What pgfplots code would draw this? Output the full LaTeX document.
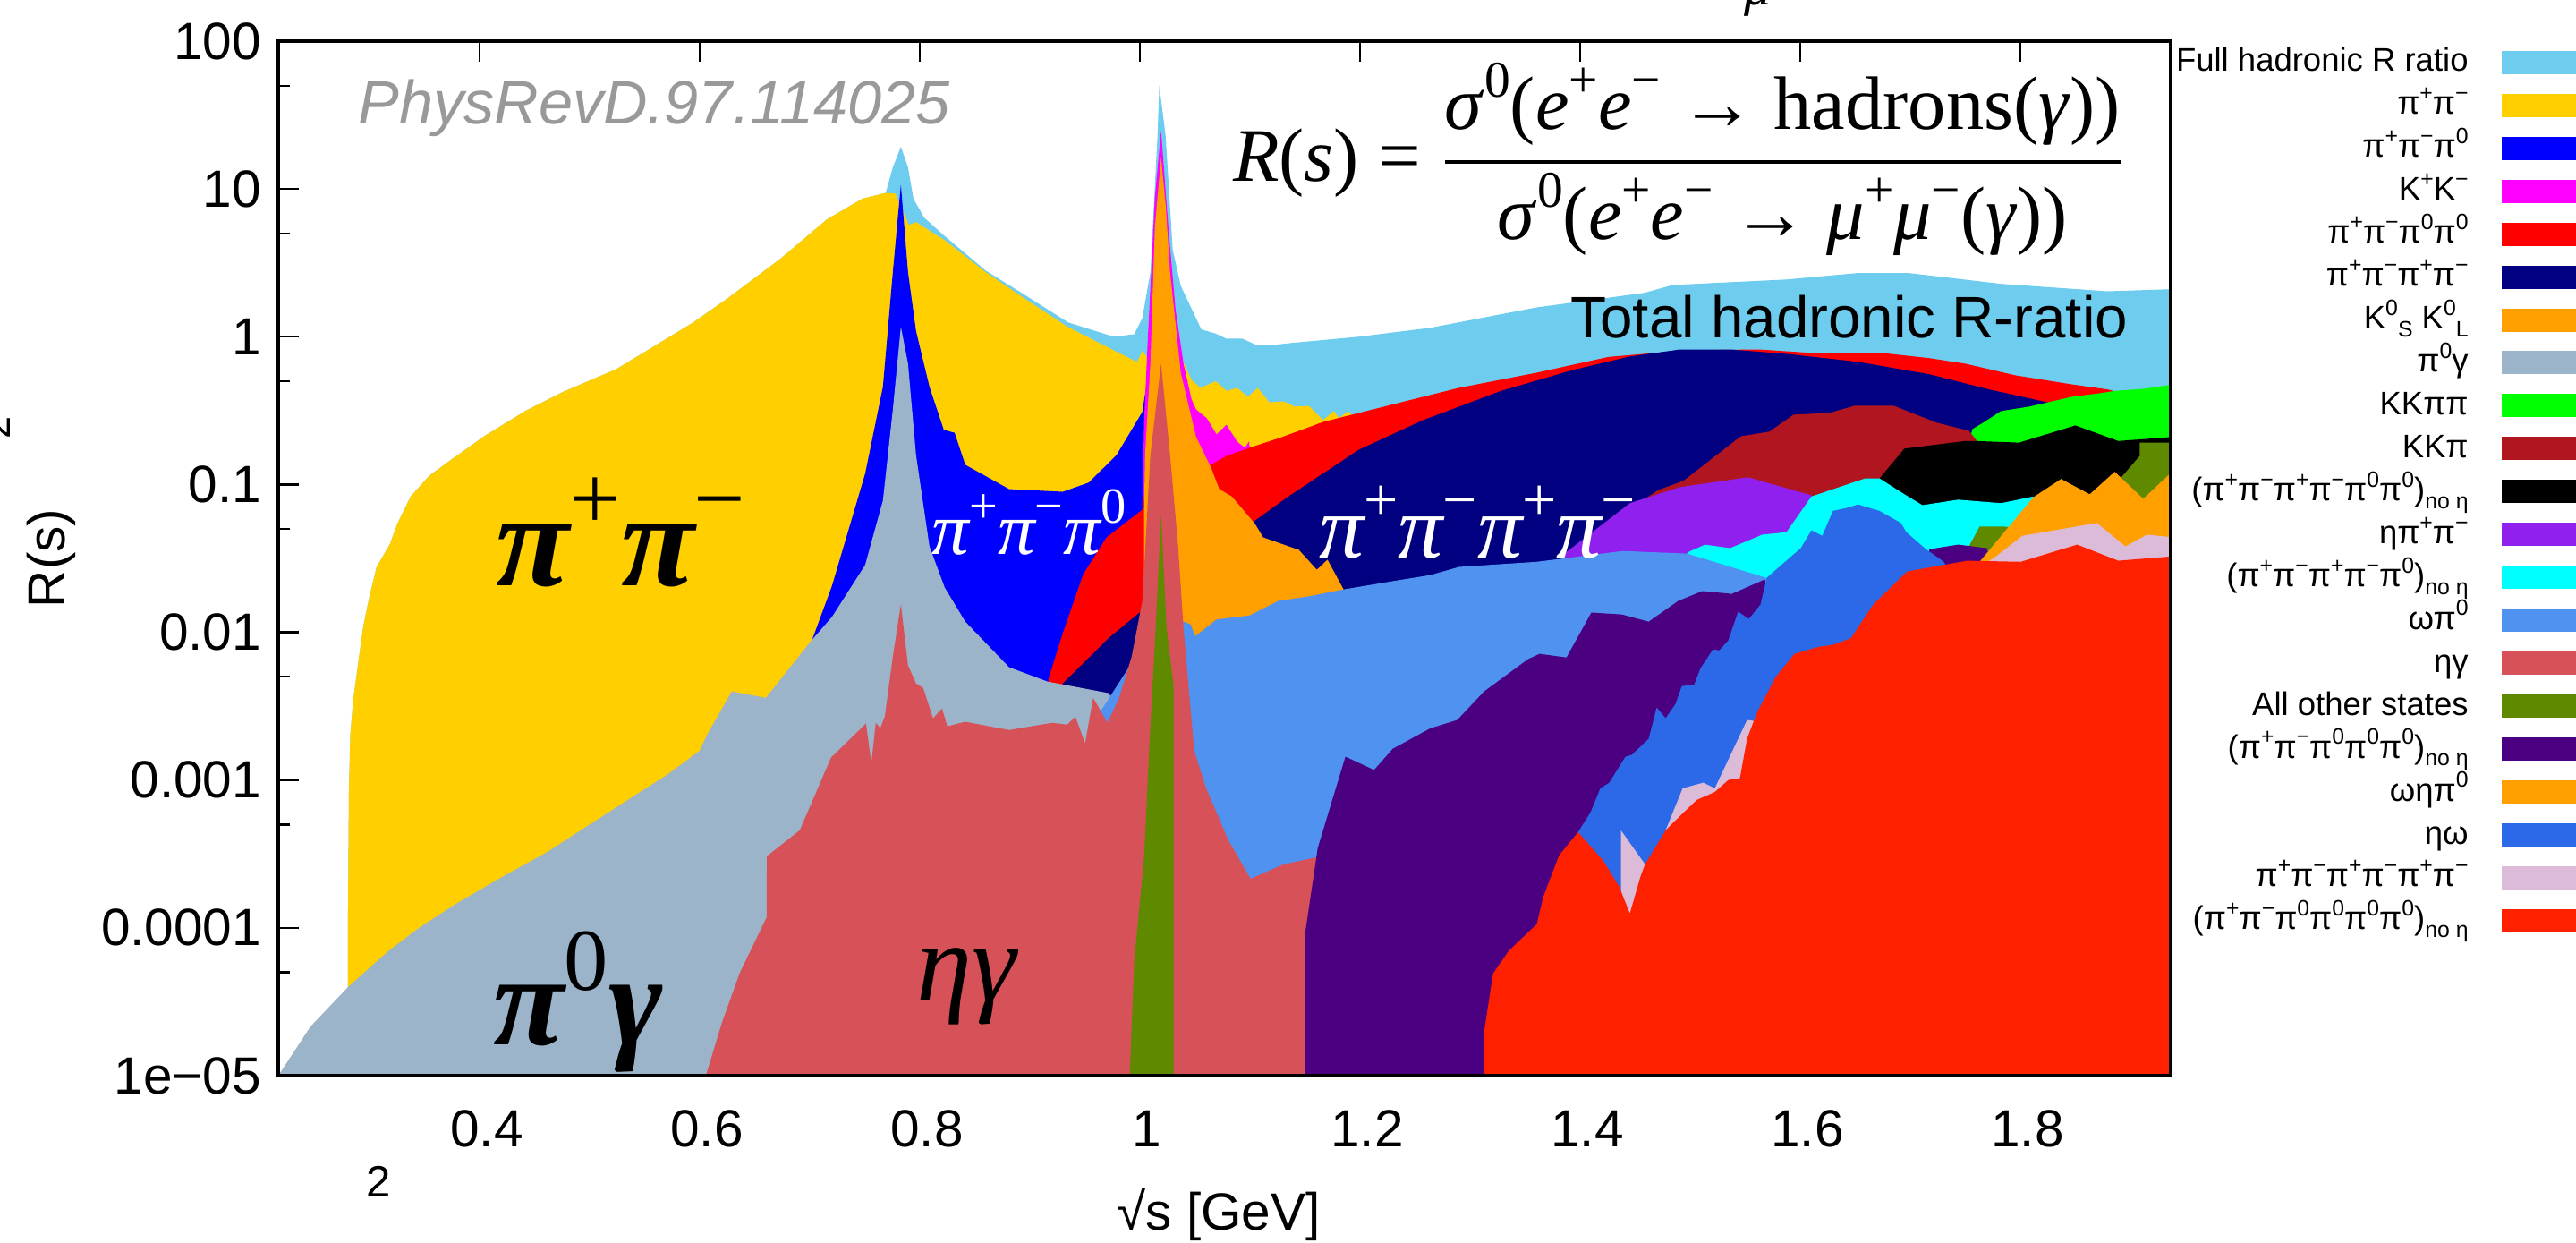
\documentclass[border=0pt]{standalone}
\usepackage{fontspec}
\usepackage{pgfplots}
\pgfplotsset{compat=1.18}
\setmainfont{Liberation Sans}
\newfontfamily\ser{Liberation Serif}
\newcommand\Sup[1]{\raisebox{.42em}{\scalebox{.68}{#1}}}
\newcommand\Sub[1]{\raisebox{-.24em}{\scalebox{.68}{#1}}}
\newcommand\Pp{π\Sup{+}}
\newcommand\Pm{π\Sup{−}}
\newcommand\Pz{π\Sup{0}}
\newcommand\noeta{\Sub{no η}}
\newcommand\fs[1]{\fontsize{#1}{#1}\selectfont}
\definecolor{cFull}{HTML}{6ECDEF}
\definecolor{cPP}{HTML}{FFCF00}
\definecolor{c3P}{HTML}{0000FF}
\definecolor{cKK}{HTML}{FF00FF}
\definecolor{c2P2}{HTML}{FF0000}
\definecolor{c4P}{HTML}{000080}
\definecolor{cKS}{HTML}{FF9F00}
\definecolor{cPG}{HTML}{9BB4CA}
\definecolor{cKKPP}{HTML}{00FF00}
\definecolor{cKKP}{HTML}{B01520}
\definecolor{cBlack}{HTML}{000000}
\definecolor{cEPP}{HTML}{9020EE}
\definecolor{cCyan}{HTML}{00FFFF}
\definecolor{cOP}{HTML}{4F92F0}
\definecolor{cEG}{HTML}{D75159}
\definecolor{cOther}{HTML}{5F8A00}
\definecolor{cIndigo}{HTML}{4B0082}
\definecolor{cOEP}{HTML}{FFA000}
\definecolor{cEO}{HTML}{2B69E8}
\definecolor{c6P}{HTML}{DBBBD8}
\definecolor{cScar}{HTML}{FF2000}
\begin{document}
\begin{tikzpicture}
\path[use as bounding box] (-62.2pt,-37.4pt) rectangle (513.6pt,240.4pt);
\begin{axis}[
  scale only axis, width=423pt, height=231.2pt,
  ymode=log, xmin=0.2171, xmax=1.9365, ymin=1e-5, ymax=100,
  axis on top=false, no markers, clip mode=individual,
  axis line style={line width=.75pt},
  tick style={black, line width=.45pt},
  major tick length=4.7pt,
  xtick={0.4,0.6,0.8,1,1.2,1.4,1.6,1.8},
  xticklabels={0.4,0.6,0.8,1,1.2,1.4,1.6,1.8},
  xticklabel pos=lower,
  ytick={1e-5,1e-4,1e-3,1e-2,1e-1,1,10,100},
  yticklabels={1e−05,0.0001\hspace{1.6pt},0.001\hspace{1.6pt},0.01\hspace{1.6pt},0.1\hspace{1.6pt},1\hspace{2pt},10,100},
  ytick pos=left, yminorticks=false, xminorticks=false,
  extra y ticks={5e-5,5e-4,5e-3,5e-2,0.5,5,50},
  extra y tick labels={},
  extra y tick style={major tick length=2.6pt},
  tick label style={font=\fs{11.7}, inner sep=0pt},
  xticklabel shift=7.6pt, yticklabel shift=3.6pt,
  xticklabel style={xshift=1.6pt},
  every axis x label/.style={at={(rel axis cs:0.497,0)}, anchor=center, yshift=-31pt},
  every axis y label/.style={at={(rel axis cs:0,0.5)}, anchor=center, rotate=90, yshift=50.8pt},
  label style={font=\fs{11.7}},
  xlabel={√s [GeV]}, ylabel={R(s)},
  legend style={at={(axis description cs:1.2457,0.997)}, anchor=north east, draw=none, fill=none, inner sep=0pt, outer sep=0pt,
    row sep=0pt, column sep=7.4pt,
    nodes={inner sep=0pt, outer sep=0pt, font=\fs{7.3}, text height=6.09pt, text depth=3.5pt}},
  legend cell align=right, legend plot pos=right,
  legend image code/.code={\fill[#1] (0pt,-1.87pt) rectangle (30pt,3.33pt);},
]
% Full hadronic R ratio
\addplot[fill=cFull, draw=none] coordinates {(.2805,1e-5)(.2805,3.97e-5)(.2805,1.30e-4)(.2813,8.2e-4)(.2825,2e-3)(.2854,3.6e-3)(.2943,.0109)(.3000,.0175)(.3065,.0277)(.3187,.0397)(.3252,.0541)(.3374,.0830)(.3545,.115)(.3789,.156)(.4041,.212)(.4414,.314)(.4748,.420)(.5243,.604)(.5658,.93)(.5942,1.25)(.6267,1.85)(.6731,3.36)(.7153,6.2)(.7478,8.6)(.7690,9.4)(.7755,14.0)(.7828,19.3)(.7893,14.0)(.7942,8.6)(.8039,6.4)(.8226,4.8)(.8600,2.8)(.8925,1.98)(.9348,1.25)(.9762,1.0)(.9949,1.04)(1.0022,1.34)(1.0095,2.73)(1.0160,23.1)(1.0176,50)(1.0233,23.1)(1.0298,3.87)(1.0371,2.21)(1.0558,1.12)(1.0688,1.05)(1.0786,.97)(1.0932,.97)(1.1071,.87)(1.1208,.88)(1.1395,.91)(1.1988,1.0)(1.2639,1.15)(1.3605,1.58)(1.4581,1.98)(1.4841,2.24)(1.5874,2.44)(1.6524,2.7)(1.6980,2.7)(1.7824,2.28)(1.8791,2.03)(1.9392,2.1)(1.9392,1e-5)} -- cycle;
\addlegendentry{Full hadronic R ratio}
% pi+ pi-
\addplot[fill=cPP, draw=none] coordinates {(.2805,1e-5)(.2805,3.97e-5)(.2805,1.30e-4)(.2813,8.2e-4)(.2825,2e-3)(.2854,3.6e-3)(.2943,.0109)(.3000,.0175)(.3065,.0277)(.3187,.0397)(.3252,.0541)(.3374,.0830)(.3545,.115)(.3789,.156)(.4041,.212)(.4414,.314)(.4748,.420)(.5243,.604)(.5658,.93)(.5942,1.25)(.6267,1.85)(.6731,3.36)(.7153,6.2)(.7478,8.6)(.7690,9.4)(.7779,9.3)(.7900,5.71)(.7966,5.96)(.8226,4.5)(.8600,2.73)(.8974,1.77)(.9348,1.16)(.9762,.81)(.9973,.675)(1.0022,.80)(1.0079,.70)(1.0144,2.9)(1.0184,8.8)(1.0233,2.9)(1.0306,.94)(1.0469,.51)(1.0551,.45)(1.0688,.50)(1.0786,.43)(1.0883,.45)(1.0981,.393)(1.1071,.45)(1.1176,.36)(1.1306,.365)(1.1404,.337)(1.1534,.34)(1.1664,.273)(1.1761,.314)(1.1810,.281)(1.1891,.314)(1.2037,.234)(1.2160,1e-5)} -- cycle;
\addlegendentry{\Pp\Pm}
% pi+ pi- pi0
\addplot[fill=c3P, draw=none] coordinates {(.7015,1e-5)(.7015,.00862)(.7202,.0206)(.7503,.118)(.7665,.458)(.7755,2.73)(.7828,10.7)(.7893,2.73)(.7966,1.09)(.8088,.458)(.8218,.234)(.8316,.224)(.8413,.136)(.8811,.0931)(.9299,.0893)(.9534,.103)(.9787,.158)(1.0022,.310)(1.0095,.704)(1.0144,4.37)(1.0184,13.4)(1.0225,4.37)(1.0290,.54)(1.0453,.0765)(1.0575,1e-5)} -- cycle;
\addlegendentry{\Pp\Pm\Pz}
% K+ K-
\addplot[fill=cKK, draw=none] coordinates {(1.0022,1e-5)(1.0022,.0663)(1.0038,.267)(1.0071,.94)(1.0136,8.8)(1.0192,24.8)(1.0258,5.57)(1.0323,1.54)(1.0396,.657)(1.0469,.376)(1.0510,.322)(1.0607,.281)(1.0696,.218)(1.0786,.254)(1.0883,.195)(1.0956,.177)(1.0989,.195)(1.1005,.165)(1.1184,1e-5)} -- cycle;
\addlegendentry{K\Sup{+}K\Sup{−}}
% pi+ pi- pi0 pi0
\addplot[fill=c2P2, draw=none] coordinates {(.9169,1e-5)(.9169,.00483)(.9299,.00985)(.9486,.0248)(.9697,.0439)(1.0022,.0676)(1.0128,.234)(1.0184,2.91)(1.0249,.234)(1.0631,.134)(1.0786,.156)(1.1013,.179)(1.1273,.207)(1.1664,.265)(1.2314,.351)(1.2899,.451)(1.3605,.571)(1.4256,.73)(1.4581,.766)(1.4971,.81)(1.5622,.82)(1.6068,.78)(1.6719,.78)(1.7174,.716)(1.7499,.657)(1.7954,.548)(1.8466,.476)(1.8791,.44)(1.9149,.38)(1.9392,.355)(1.9392,1e-5)} -- cycle;
\addlegendentry{\Pp\Pm\Pz\Pz}
% pi+ pi- pi+ pi-
\addplot[fill=c4P, draw=none] coordinates {(.9299,1e-5)(.9299,.0045)(.9721,.0092)(.9998,.0136)(1.1038,.0564)(1.1339,.082)(1.1989,.172)(1.2574,.273)(1.3281,.43)(1.3931,.595)(1.4451,.735)(1.4907,.82)(1.5362,.82)(1.5874,.766)(1.6524,.676)(1.7174,.557)(1.7694,.444)(1.8279,.355)(1.8580,.27)(1.9392,.204)(1.9392,1e-5)} -- cycle;
\addlegendentry{\Pp\Pm\Pp\Pm}
% KS KL
\addplot[fill=cKS, draw=none] coordinates {(1.0038,1e-5)(1.0038,.0676)(1.0047,.158)(1.0095,.657)(1.0136,5.57)(1.0192,16.3)(1.0233,7.9)(1.0274,2.73)(1.0371,.571)(1.0510,.21)(1.0648,.129)(1.0721,.0931)(1.0835,.083)(1.1046,.0541)(1.1119,.0439)(1.1444,.0361)(1.1607,.0265)(1.1704,.031)(1.1850,.0195)(1.1956,.0109)(1.2078,1e-5)} -- cycle;
\addlegendentry{K\Sup{0}\Sub{S} K\Sup{0}\Sub{L}}
% pi0 gamma
\addplot[fill=cPG, draw=none] coordinates {(.2171,1e-5)(.2300,1.4e-5)(.2464,2.15e-5)(.2630,2.9e-5)(.2805,3.98e-5)(.3171,6.96e-5)(.3450,1.0e-4)(.3789,1.46e-4)(.4200,2.2e-4)(.4618,3.27e-4)(.5000,5.0e-4)(.5447,8.2e-4)(.5700,1.08e-3)(.5999,1.58e-3)(.6072,2.06e-3)(.6292,3.98e-3)(.6601,3.6e-3)(.7015,8.8e-3)(.7202,.0127)(.7503,.0285)(.7665,.078)(.7755,.322)(.7828,1.17)(.7893,.657)(.7966,.158)(.8088,.0381)(.8226,.0201)(.8413,.0118)(.8811,5.8e-3)(.9161,4.64e-3)(.9721,3.87e-3)(.9803,2.7e-3)(.9965,1e-5)} -- cycle;
\addlegendentry{\Pz γ}
% K K pi pi
\addplot[fill=cKKPP, draw=none] coordinates {(1.7548,1e-5)(1.7548,.215)(1.7564,.237)(1.7661,.262)(1.7824,.314)(1.8084,.337)(1.8466,.392)(1.8726,.415)(1.8856,.43)(1.9116,.444)(1.9392,.476)(1.9392,1e-5)} -- cycle;
\addlegendentry{KKππ}
% K K pi
\addplot[fill=cKKP, draw=none] coordinates {(1.4598,1e-5)(1.4598,.081)(1.4712,.092)(1.4939,.106)(1.5459,.212)(1.5719,.228)(1.5938,.297)(1.6263,.305)(1.6491,.341)(1.6849,.341)(1.7239,.262)(1.7532,.231)(1.7621,.19)(1.7767,1e-5)} -- cycle;
\addlegendentry{KKπ}
% 4pi 2pi0
\addplot[fill=cBlack, draw=none] coordinates {(1.6719,1e-5)(1.6719,.110)(1.6946,.175)(1.7499,.197)(1.7597,.197)(1.7987,.192)(1.8499,.251)(1.8889,.197)(1.9392,.21)(1.9392,1e-5)} -- cycle;
\addlegendentry{(\Pp\Pm\Pp\Pm\Pz\Pz)\noeta}
% eta pi pi
\addplot[fill=cEPP, draw=none] coordinates {(1.3834,1e-5)(1.3834,.0331)(1.4451,.0748)(1.4907,.096)(1.5524,.112)(1.6101,.0845)(1.6223,.0331)(1.6385,1e-5)} -- cycle;
\addlegendentry{η\Pp\Pm}
% 4pi pi0
\addplot[fill=cCyan, draw=none] coordinates {(1.4971,1e-5)(1.4971,.0346)(1.5134,.0392)(1.5362,.0371)(1.5654,.0458)(1.5874,.0476)(1.6101,.083)(1.6589,.110)(1.6719,.110)(1.6946,.0859)(1.7109,.0725)(1.7434,.079)(1.7824,.0748)(1.8117,.083)(1.8255,.0439)(1.8336,1e-5)} -- cycle;
\addlegendentry{(\Pp\Pm\Pp\Pm\Pz)\noeta}
% omega pi0
\addplot[fill=cOP, draw=none] coordinates {(.9640,1e-5)(.9640,2.9e-3)(.9900,5.8e-3)(1.0128,.0109)(1.0347,.0122)(1.0461,.0113)(1.0502,9.4e-3)(1.0696,.0122)(1.0997,.013)(1.1257,.0163)(1.1534,.0175)(1.1850,.0195)(1.2330,.0224)(1.2639,.0244)(1.2899,.0277)(1.3605,.030)(1.4386,.0355)(1.4971,.0341)(1.5687,.0234)(1.5817,.0109)(1.5898,1e-5)} -- cycle;
\addlegendentry{ω\Pz}
% eta gamma
\addplot[fill=cEG, draw=none] coordinates {(.6056,1e-5)(.6202,2.28e-5)(.6365,4.97e-5)(.6609,1.18e-4)(.6610,3.05e-4)(.6909,4.57e-4)(.7194,1.42e-3)(.7511,2.41e-3)(.7560,1.30e-3)(.7600,2.44e-3)(.7641,2.24e-3)(.7682,2.69e-3)(.7755,6.85e-3)(.7828,.0154)(.7893,5.96e-3)(.7966,4.5e-3)(.8031,4.2e-3)(.8120,2.62e-3)(.8202,3.05e-3)(.8250,2.31e-3)(.8413,2.48e-3)(.8811,2.18e-3)(.9201,2.44e-3)(.9339,2.37e-3)(.9413,2.69e-3)(.9502,1.77e-3)(.9575,3.6e-3)(.9705,2.44e-3)(.9811,3.6e-3)(.9925,6.85e-3)(1.0022,.0163)(1.0095,.158)(1.0192,.657)(1.0274,.158)(1.0347,.0381)(1.0396,.0106)(1.0493,1.58e-3)(1.0599,8.9e-4)(1.0802,3.93e-4)(1.1005,2.15e-4)(1.1306,2.69e-4)(1.1599,3.0e-4)(1.1672,1e-5)} -- cycle;
\addlegendentry{ηγ}
% all other states
\addplot[fill=cOther, draw=none] coordinates {(.9908,1e-5)(.9949,6.05e-5)(1.0038,2.97e-4)(1.0095,2.34e-3)(1.0144,.0109)(1.0192,.0630)(1.0241,.0109)(1.0306,4.32e-3)(1.0306,1e-5)(1.7483,1e-5)(1.7532,.0381)(1.7629,.052)(1.7857,.052)(1.8336,.0439)(1.8661,.0439)(1.8921,.113)(1.9084,.156)(1.9084,.192)(1.9392,.192)(1.9392,1e-5)} -- cycle;
\addlegendentry{All other states}
% 2pi 3pi0
\addplot[fill=cIndigo, draw=none] coordinates {(1.1501,1e-5)(1.1501,9.2e-5)(1.1615,3.46e-4)(1.1867,1.44e-3)(1.2127,1.17e-3)(1.2298,1.63e-3)(1.2639,2.24e-3)(1.2883,2.55e-3)(1.3127,3.98e-3)(1.3525,6.57e-3)(1.3631,7.15e-3)(1.3875,6.75e-3)(1.4102,.0136)(1.4378,.0132)(1.4622,.0118)(1.4890,.0163)(1.5109,.019)(1.5378,.0182)(1.5678,.0228)(1.5735,.0109)(1.6711,.0109)(1.7117,.0251)(1.7174,.0365)(1.7434,.0392)(1.7694,.0371)(1.7767,.0251)(1.7848,1e-5)} -- cycle;
\addlegendentry{(\Pp\Pm\Pz\Pz\Pz)\noeta}
% omega eta pi0
\addplot[fill=cOEP, draw=none] coordinates {(1.7629,1e-5)(1.7629,.030)(1.8117,.082)(1.8369,.109)(1.8629,.0859)(1.8856,.122)(1.9116,.080)(1.9392,.125)(1.9392,1e-5)} -- cycle;
\addlegendentry{ωη\Pz}
% eta omega
\addplot[fill=cEO, draw=none] coordinates {(1.3980,1e-5)(1.3980,4.44e-4)(1.4094,6.05e-4)(1.4183,8.8e-4)(1.4264,9.6e-4)(1.4411,1.44e-3)(1.4468,1.48e-3)(1.4622,1.9e-3)(1.4695,3.1e-3)(1.4776,2.62e-3)(1.4866,3.27e-3)(1.4923,4.32e-3)(1.5036,4.44e-3)(1.5093,5.71e-3)(1.5207,7.66e-3)(1.5264,7.55e-3)(1.5345,8.8e-3)(1.5435,.0138)(1.5532,.0123)(1.5638,.0154)(1.5695,.0234)(1.6004,.0371)(1.6101,.049)(1.6199,.045)(1.6296,.0663)(1.6426,.0696)(1.6524,.0733)(1.6719,.0663)(1.6914,.0549)(1.6963,.0476)(1.7141,.0365)(1.7304,.030)(1.7442,.019)(1.7523,1e-5)} -- cycle;
\addlegendentry{ηω}
% 3(pi+ pi-)
\addplot[fill=c6P, draw=none] coordinates {(1.4370,1e-5)(1.4370,4.57e-4)(1.4589,2.69e-4)(1.4663,2.37e-4)(1.4776,4.57e-4)(1.4931,8.8e-4)(1.5118,9.6e-4)(1.5223,8.8e-4)(1.5516,2.55e-3)(1.5581,2.51e-3)(1.5695,1.34e-3)(1.5898,2.69e-3)(1.7523,.0251)(1.7759,.0318)(1.8019,.045)(1.8694,.0549)(1.8954,.0381)(1.9149,.0458)(1.9392,.0439)(1.9392,1e-5)} -- cycle;
\addlegendentry{\Pp\Pm\Pp\Pm\Pp\Pm}
% 2pi 4pi0
\addplot[fill=cScar, draw=none] coordinates {(1.3127,1e-5)(1.3127,1.98e-5)(1.3208,4.9e-5)(1.3354,7.04e-5)(1.3606,1.06e-4)(1.3663,1.61e-4)(1.3809,3.1e-4)(1.3980,4.44e-4)(1.4208,2.85e-4)(1.4354,1.9e-4)(1.4451,1.25e-4)(1.4549,2.24e-4)(1.4589,2.69e-4)(1.4776,4.57e-4)(1.4923,5.87e-4)(1.5061,7.35e-4)(1.5223,8.3e-4)(1.5345,1.0e-3)(1.5451,1.03e-3)(1.5516,1.9e-3)(1.5605,2.85e-3)(1.5776,4.97e-3)(1.5947,7.15e-3)(1.6174,8e-3)(1.6288,8.2e-3)(1.6459,9.1e-3)(1.6662,.0154)(1.6971,.0258)(1.7515,.0305)(1.8003,.030)(1.8515,.0392)(1.8889,.0305)(1.9392,.0327)(1.9392,1e-5)} -- cycle;
\addlegendentry{(\Pp\Pm\Pz\Pz\Pz\Pz)\noeta}
\draw[line width=.75pt] (rel axis cs:0,0) rectangle (rel axis cs:1,1);
\pgfplotsinvokeforeach{0.4,0.6,0.8,1,1.2,1.4,1.6,1.8}{
  \draw[line width=.45pt] (axis cs:#1,100) -- ++(0pt,-4.7pt);
}
\end{axis}
% annotations
\node[text=black!40, font=\fs{13.7}\itshape] at (84pt,216.2pt) {PhysRevD.97.114025};
\node[font=\fs{16.9}\ser] at (313.2pt,204.8pt) {\textit{R}(\textit{s}) = $\displaystyle{\mbox{\fs{16.9}\ser\textit{σ}\Sup{0}(\textit{e}\Sup{+}\textit{e}\Sup{−} → hadrons(\textit{γ}))}\above.7pt\mbox{\fs{16.9}\ser\textit{σ}\Sup{0}(\textit{e}\Sup{+}\textit{e}\Sup{−} → \textit{μ}\Sup{+}\textit{μ}\Sup{−}(\textit{γ}))}}$};
\node[font=\fs{13.1}] at (351.2pt,169.6pt) {Total hadronic R-ratio};
\node[font=\fs{30}\ser\bfseries\itshape] at (76.6pt,121.4pt) {π\Sup{\upshape\mdseries +}π\Sup{\upshape\mdseries −}};
\node[text=white, font=\fs{16.6}\ser\itshape] at (167.8pt,123.6pt) {π\Sup{\upshape +}π\Sup{\upshape −}π\Sup{\upshape 0}};
\node[text=white, font=\fs{20}\ser\itshape] at (268pt,123.6pt) {π\Sup{\upshape +}π\Sup{\upshape −}π\Sup{\upshape +}π\Sup{\upshape −}};
\node[font=\fs{29}\ser\bfseries\itshape] at (67pt,16.4pt) {π\Sup{\upshape\mdseries 0}γ};
\node[font=\fs{25}\ser\itshape] at (153.8pt,20pt) {ηγ};
\node[font=\fs{9.8}] at (22.4pt,-23.6pt) {2};
\node[font=\fs{9}, rotate=90] at (-63pt,144.8pt) {2};
\node[font=\fs{12}\ser\itshape, anchor=base] at (330.8pt,239.2pt) {μ};
\end{tikzpicture}
\end{document}
